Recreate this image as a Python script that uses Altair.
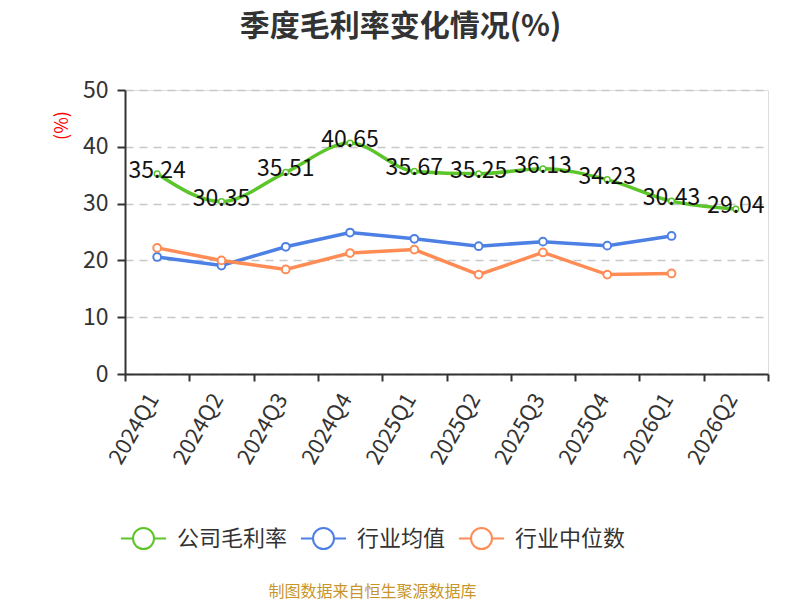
import altair as alt
import pandas as pd

quarters = ["2024Q1", "2024Q2", "2024Q3", "2024Q4", "2025Q1",
            "2025Q2", "2025Q3", "2025Q4", "2026Q1", "2026Q2"]
company = [35.24, 30.35, 35.51, 40.65, 35.67, 35.25, 36.13, 34.23, 30.43, 29.04]
ind_avg = [20.6, 19.1, 22.4, 24.9, 23.8, 22.5, 23.3, 22.6, 24.3]
ind_med = [22.2, 20.0, 18.4, 21.3, 21.9, 17.5, 21.4, 17.5, 17.7]
series_names = ["公司毛利率", "行业均值", "行业中位数"]
colors = ["#5bc52a", "#4d80e4", "#ff8b55"]
y_ticks = [0, 10, 20, 30, 40, 50]

FONT = "Noto Sans CJK SC"

rows = []
for name, vals in zip(series_names, [company, ind_avg, ind_med]):
    for q, v in zip(quarters, vals):
        rows.append({"quarter": q, "series": name, "value": v})
df = pd.DataFrame(rows)

legend_symbol = "M-2.15,0L-1,0M1,0L2.15,0M-1,0A1,1,0,1,1,1,0A1,1,0,1,1,-1,0Z"

x_enc = alt.X(
    "quarter:N", sort=quarters, bandPosition=0.5,
    scale=alt.Scale(type="band", domain=quarters, paddingInner=0, paddingOuter=0),
    axis=alt.Axis(
        title="制图数据来自恒生聚源数据库", titleColor="#c8952c", titleFontSize=16,
        titleFontWeight="normal", titleFont=FONT, titleX=247, titleY=217,
        titleAlign="center", titleBaseline="middle",
        tickBand="extent", labelAngle=-60, labelFontSize=22, labelColor="#333",
        labelFont=FONT, labelPadding=14, labelOffset=-4, domainColor="#333", domainWidth=2,
        tickColor="#333", tickWidth=2, tickSize=7, grid=False,
    ),
)
y_enc = alt.Y(
    "value:Q",
    scale=alt.Scale(domain=[0, 50], nice=False),
    axis=alt.Axis(
        values=y_ticks, title="(%)", titleColor="red", titleFontSize=18,
        titleFontWeight="normal", titleFont=FONT, titleX=-63, titleY=35,
        titleAlign="center", titleBaseline="middle", titleAngle=270,
        labelFontSize=23, labelColor="#333", labelFont=FONT, labelPadding=9,
        domainColor="#333", domainWidth=2, tickColor="#333", tickWidth=2, tickSize=8,
        grid=True, gridDash=[8, 6], gridColor="#c8c8c8", gridWidth=1.5,
    ),
)
color_enc = alt.Color(
    "series:N",
    scale=alt.Scale(domain=series_names, range=colors),
    legend=alt.Legend(
        title=None, orient="none", legendX=7, legendY=437, direction="horizontal",
        symbolType=legend_symbol, symbolSize=441, symbolStrokeWidth=2,
        symbolFillColor="white", labelFontSize=22, labelColor="#333",
        labelFont=FONT, labelOffset=22, columnPadding=8,
    ),
)

base = alt.Chart(df).encode(x=x_enc, y=y_enc, color=color_enc)

comp = base.transform_filter(alt.datum.series == "公司毛利率")
ind = base.transform_filter(alt.datum.series != "公司毛利率").transform_filter(
    "isValid(datum.value)")

comp_line = comp.mark_line(strokeWidth=3.5, interpolate="monotone")
ind_line = ind.mark_line(strokeWidth=3.5)
comp_pts = comp.mark_point(filled=False, fill="white", fillOpacity=1, size=32,
                           strokeWidth=1.5, opacity=1)
ind_pts = ind.mark_point(filled=False, fill="white", fillOpacity=1, size=60,
                         strokeWidth=2, opacity=1)
labels = alt.Chart(df).transform_filter(alt.datum.series == "公司毛利率").mark_text(
    fontSize=23, color="#111", font=FONT, align="center", baseline="middle", dy=-3
).encode(x=x_enc, y=y_enc, text=alt.Text("value:Q", format=".2f"))

chart = alt.layer(comp_line, ind_line, ind_pts, comp_pts, labels).properties(
    width=643, height=284,
    padding={"left": 117, "top": 82, "right": 24, "bottom": 226},
    autosize="none",
    title=alt.TitleParams(
        "季度毛利率变化情况(%)", fontSize=30, fontWeight="bold", color="#333",
        font=FONT, anchor="middle", dx=-46, offset=37,
    ),
).configure_view(stroke=None).configure(background="white")

chart.save("out.html", embed_options={"renderer": "svg", "actions": False})
